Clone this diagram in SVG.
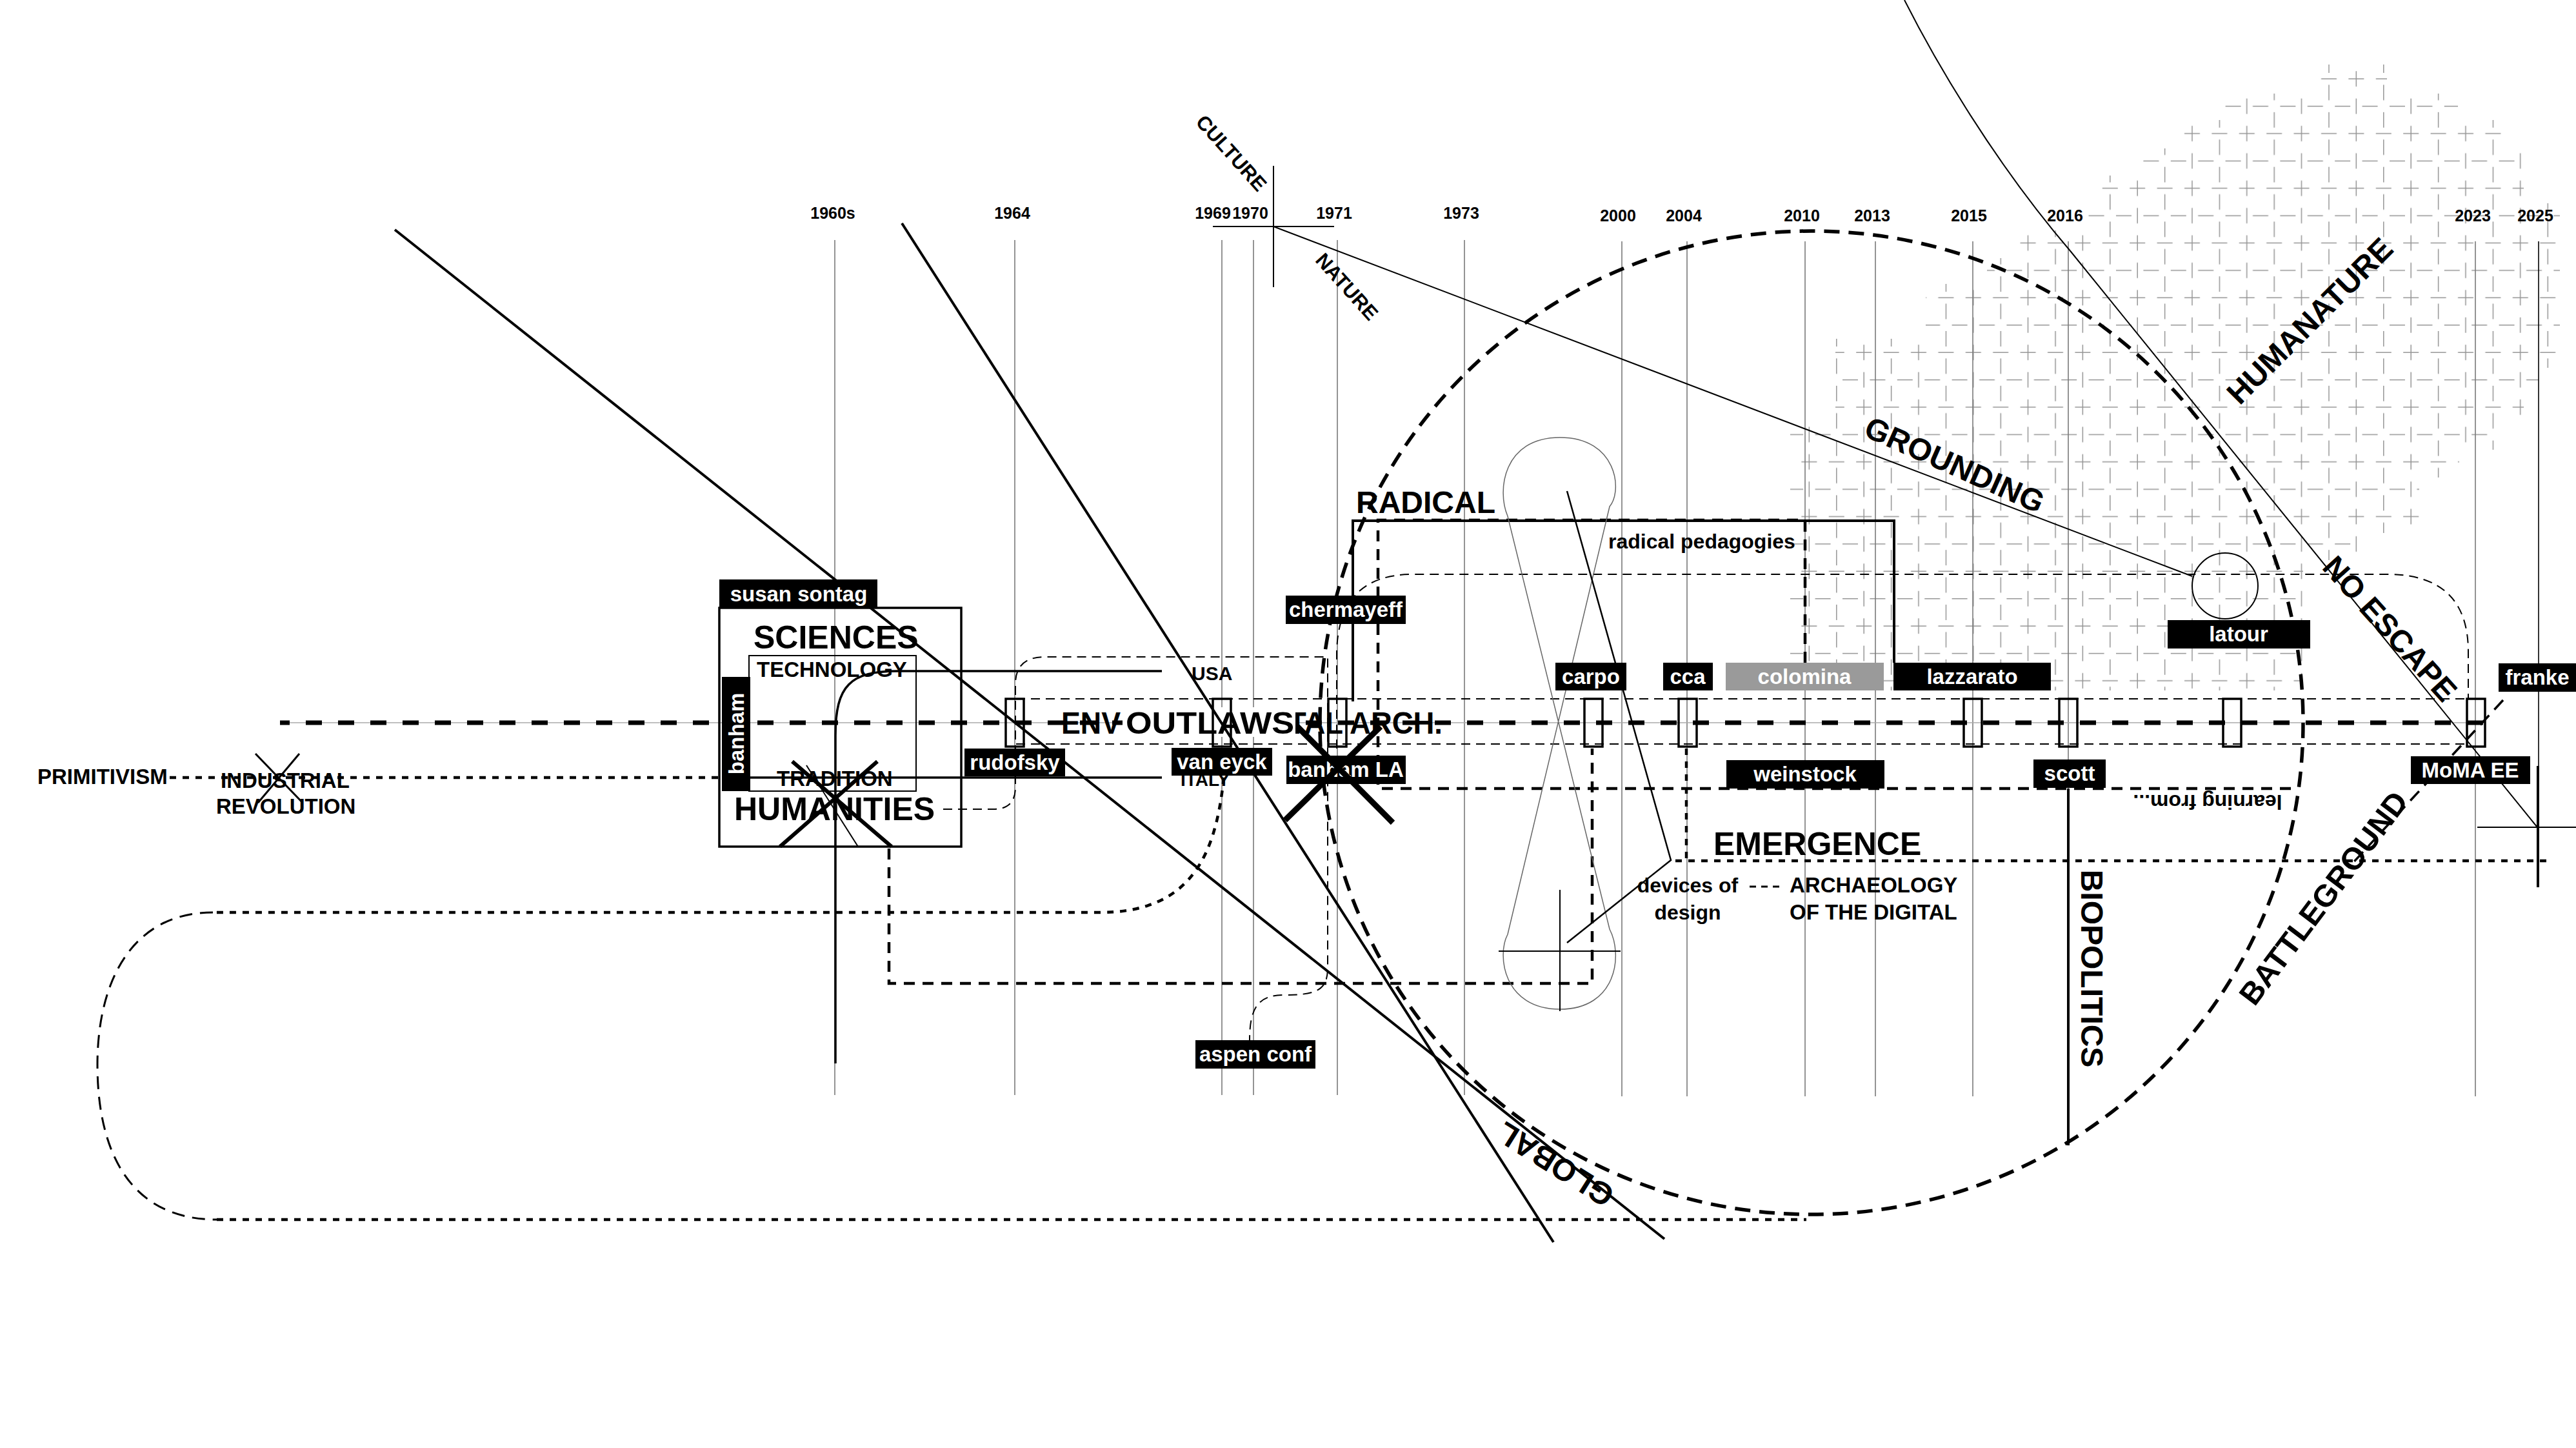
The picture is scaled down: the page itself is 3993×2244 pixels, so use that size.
<svg xmlns="http://www.w3.org/2000/svg" width="3993" height="2244" viewBox="0 0 3993 2244">
<style>
text{font-family:'Liberation Sans',Arial,Helvetica,sans-serif;font-weight:bold;fill:#000}
.yr{font-size:25px;text-anchor:middle}
.lb{fill:#fff;font-size:33px;text-anchor:middle}
.big{font-size:48px;text-anchor:middle}
.yl{stroke:#7a7a7a;stroke-width:1.6;fill:none}
.tick{fill:none;stroke:#000;stroke-width:3.5}
.thd{fill:none;stroke:#000;stroke-width:2;stroke-dasharray:14 9}
.md{fill:none;stroke:#000;stroke-width:4.5;stroke-dasharray:17 12}
.dot{fill:none;stroke:#000;stroke-width:4.5;stroke-dasharray:10 10}
.sol{fill:none;stroke:#000}
</style>
<defs>
<pattern id="gp" patternUnits="userSpaceOnUse" x="3292" y="101" width="84.8" height="84.8">
<path d="M9.2,21.2H33.2M51.6,21.2H75.6M30.4,63.6H54.4M0,63.6H12M72.8,63.6H84.8M21.2,9.2V33.2M21.2,51.6V75.6M63.6,30.4V54.4M63.6,0V12M63.6,72.8V84.8" stroke="#959595" stroke-width="1.5" fill="none"/>
</pattern>
</defs>
<rect width="3993" height="2244" fill="#fff"/>

<g id="grid-field">
<polygon fill="url(#gp)" points="3590,100 3700,100 3700,145 3810,145 3810,186 3890,186 3890,230 3912,230 3912,315 3968,315 3968,570 3935,570 3935,612 3912,612 3912,655 3866,655 3866,697 3812,697 3812,740 3750,740 3750,826 3655,826 3655,868 3570,868 3570,1070 2775,1070 2775,650 2845,650 2845,525 2985,525 2985,440 3080,440 3080,400 3125,400 3125,357 3230,357 3230,315 3255,315 3255,272 3315,272 3315,230 3380,230 3380,186 3445,186 3445,145 3590,145"/>
</g>

<g id="timeline">
<g class="yl">
<path d="M1294,372V1697M1573,372V1697M1894,372V1697M1943,372V1697M2073,372V1697M2270,372V1697M2514,374V1699M2615,374V1699M2798,374V1699M2907,374V1699M3058,374V1699M3206,374V1699M3837,374V1699"/>
<path d="M3935,374V1187" stroke="#000" stroke-width="1.6"/>
</g>
<text class="yr" x="1291" y="339">1960s</text>
<text class="yr" x="1569" y="339">1964</text>
<text class="yr" x="1880" y="339">1969</text>
<text class="yr" x="1938" y="339">1970</text>
<text class="yr" x="2068" y="339">1971</text>
<text class="yr" x="2265" y="339">1973</text>
<text class="yr" x="2508" y="343">2000</text>
<text class="yr" x="2610" y="343">2004</text>
<text class="yr" x="2793" y="343">2010</text>
<text class="yr" x="2902" y="343">2013</text>
<text class="yr" x="3052" y="343">2015</text>
<text class="yr" x="3201" y="343">2016</text>
<text class="yr" x="3833" y="343">2023</text>
<text class="yr" x="3930" y="343">2025</text>
</g>

<g id="connectors">
<path d="M434,1120H3840" stroke="#aaa" stroke-width="1.5"/>
<path d="M434,1120H3858" stroke="#000" stroke-width="7" stroke-dasharray="25 25" stroke-dashoffset="10"/>
<path class="thd" d="M1575,1083H3826M1575,1153H3826"/>
<path class="thd" d="M1462,1254H1540Q1574,1254 1574,1220V1060Q1574,1018 1620,1018H2058V1500C2058,1535 2040,1542 1990,1542C1950,1542 1937,1562 1937,1612"/>
<path class="thd" d="M2072,1160V1010Q2075,890 2190,890H3700Q3826,890 3826,1010V1083"/>
<circle cx="2808" cy="1120" r="762" fill="none" stroke="#000" stroke-width="5.5" stroke-dasharray="24 14"/>
<path class="dot" d="M1897,1205C1885,1320 1850,1414 1705,1414L330,1414"/>
<path d="M330,1414C205,1414 151,1520 151,1650C151,1790 205,1890 336,1890" fill="none" stroke="#000" stroke-width="3" stroke-dasharray="20 12"/>
<path class="dot" d="M336,1890H2800"/>
<path class="md" d="M1378,1315V1524H2468V1160"/>
<path class="md" d="M2798,1027V806H2136V1222H3562"/>
<path class="dot" d="M2614,1160V1334"/>
<path class="dot" stroke-width="4" d="M2597,1334H3954"/>
<path class="dot" stroke-width="3.5" d="M263,1205H1163"/>
<path d="M2712,1374H2766" stroke="#000" stroke-width="3" stroke-dasharray="10 8"/>
<path d="M3880,1085L3640,1345" stroke="#000" stroke-width="3.5" stroke-dasharray="20 12"/>
<path class="sol" stroke-width="4" d="M2097,1087V807H2936V1027"/>
<path class="sol" stroke-width="3.5" d="M1295,1648V1140C1295,1062 1318,1040 1392,1040H1801"/>
<path class="sol" stroke-width="3.5" d="M1163,1205H1801"/>
<path class="sol" stroke-width="2" d="M1974,257V445M1880,351H2068"/>
<path class="sol" stroke-width="2" d="M1974,351L3398,893"/>
<circle cx="3449" cy="908" r="51" fill="none" stroke="#000" stroke-width="2"/>
<path class="sol" stroke-width="2" d="M2952,0C3000,95 3090,250 3210,390L3933,1282"/>
<path class="sol" stroke-width="4" d="M3934,1187V1375"/>
<path class="sol" stroke-width="2" d="M3840,1282H3993"/>
<path class="sol" stroke-width="4" d="M3206,1222V1775"/>
<path d="M2495,785L2337,1448C2320,1480 2330,1564 2418,1564C2506,1564 2516,1480 2495,1440L2337,800C2320,760 2330,678 2418,678C2506,678 2516,760 2495,785Z" fill="none" stroke="#666" stroke-width="1.5"/>
<path class="sol" stroke="#333" stroke-width="2" d="M2323,1474H2512M2418,1379V1567"/>
<path class="sol" stroke-width="2.5" d="M2429,761L2590,1333L2429,1461"/>
<path class="sol" stroke-width="3" d="M396,1168L469,1244M464,1168L400,1244"/>
</g>

<g id="n-env-outlaws">
<text x="1645" y="1137" font-size="48" textLength="92" lengthAdjust="spacingAndGlyphs">ENV</text>
<text x="1997" y="1137" font-size="48" textLength="239" lengthAdjust="spacingAndGlyphs">TAL ARCH.</text>
<rect x="1740" y="1096" width="268" height="46" fill="#fff"/>
<text x="1745" y="1137" font-size="48" textLength="261" lengthAdjust="spacingAndGlyphs">OUTLAWS</text>
</g>

<g id="ticks">
<rect class="tick" x="1559" y="1083" width="28" height="74"/>
<rect class="tick" x="1880" y="1083" width="28" height="74"/>
<rect class="tick" x="2059" y="1083" width="28" height="74"/>
<rect class="tick" x="2456" y="1083" width="28" height="74"/>
<rect class="tick" x="2602" y="1083" width="28" height="74"/>
<rect class="tick" x="3044" y="1083" width="28" height="74"/>
<rect class="tick" x="3192" y="1083" width="28" height="74"/>
<rect class="tick" x="3446" y="1083" width="28" height="74"/>
<rect class="tick" x="3824" y="1083" width="28" height="74"/>
</g>

<g id="diagonals">
<path class="sol" stroke-width="4" d="M612,356L2580,1920"/>
<path class="sol" stroke-width="4" d="M1398,346L2408,1925"/>
</g>

<g id="n-sciences-humanities">
<rect x="1115" y="942" width="375" height="370" fill="none" stroke="#000" stroke-width="3.5"/>
<rect x="1161" y="1016" width="259" height="210" fill="none" stroke="#000" stroke-width="2"/>
<text x="1168" y="1005" font-size="50">SCIENCES</text>
<text x="1173" y="1049" font-size="33">TECHNOLOGY</text>
<text x="1204" y="1218" font-size="33">TRADITION</text>
<text x="1138" y="1271" font-size="50">HUMANITIES</text>
<path class="sol" stroke-width="6" d="M1209,1312L1360,1180M1228,1180L1382,1312"/>
<path class="sol" stroke-width="2" d="M1250,1186L1330,1312"/>
</g>

<g id="n-primitivism"><text x="58" y="1215" font-size="33">PRIMITIVISM</text></g>
<g id="n-industrial"><text x="342" y="1221" font-size="33">INDUSTRIAL</text><text x="335" y="1261" font-size="33">REVOLUTION</text></g>

<g id="n-susan-sontag"><rect x="1115" y="898" width="245" height="44"/><text class="lb" x="1238" y="932">susan sontag</text></g>
<g id="n-banham"><rect x="1119" y="1049" width="44" height="177"/><text class="lb" x="1141" y="1149" transform="rotate(-90 1141 1137)">banham</text></g>
<g id="n-usa"><text x="1847" y="1054" font-size="30">USA</text></g>
<g id="n-italy"><text x="1830" y="1218" font-size="28">ITALY</text></g>
<g id="n-rudofsky"><rect x="1495" y="1160" width="156" height="43"/><text class="lb" x="1573" y="1193">rudofsky</text></g>
<g id="n-van-eyck"><rect x="1816" y="1159" width="156" height="43"/><text class="lb" x="1894" y="1192">van eyck</text></g>
<g id="n-chermayeff"><rect x="1993" y="923" width="186" height="44"/><text class="lb" x="2086" y="956">chermayeff</text></g>
<g id="n-banham-la"><rect x="1994" y="1171" width="185" height="44"/><text class="lb" x="2086" y="1204">banham LA</text>
<path class="sol" stroke-width="9" d="M2011,1126L2159,1275M2140,1126L1992,1271"/></g>
<g id="n-aspen"><rect x="1853" y="1612" width="186" height="44"/><text class="lb" x="1946" y="1645">aspen conf</text></g>
<g id="n-carpo"><rect x="2411" y="1027" width="110" height="43"/><text class="lb" x="2466" y="1060">carpo</text></g>
<g id="n-cca"><rect x="2578" y="1027" width="77" height="43"/><text class="lb" x="2616" y="1060">cca</text></g>
<g id="n-colomina"><rect x="2675" y="1027" width="245" height="43" fill="#9a9a9a"/><text class="lb" x="2797" y="1060">colomina</text></g>
<g id="n-lazzarato"><rect x="2935" y="1027" width="244" height="43"/><text class="lb" x="3057" y="1060">lazzarato</text></g>
<g id="n-weinstock"><rect x="2676" y="1178" width="245" height="44"/><text class="lb" x="2798" y="1211">weinstock</text></g>
<g id="n-scott"><rect x="3152" y="1177" width="112" height="44"/><text class="lb" x="3208" y="1210">scott</text></g>
<g id="n-latour"><rect x="3360" y="961" width="221" height="44"/><text class="lb" x="3470" y="994">latour</text></g>
<g id="n-moma"><rect x="3737" y="1172" width="185" height="43"/><text class="lb" x="3829" y="1205">MoMA EE</text></g>
<g id="n-franke"><rect x="3873" y="1028" width="120" height="44"/><text class="lb" x="3933" y="1061">franke</text></g>

<g id="n-radical"><text x="2102" y="795" font-size="48">RADICAL</text><text x="2493" y="850" font-size="32">radical pedagogies</text></g>
<g id="n-emergence"><text x="2656" y="1325" font-size="50">EMERGENCE</text></g>
<g id="n-devices"><text x="2616" y="1383" font-size="32" text-anchor="middle">devices of</text><text x="2616" y="1425" font-size="32" text-anchor="middle">design</text></g>
<g id="n-archaeology"><text x="2774" y="1383" font-size="33">ARCHAEOLOGY</text><text x="2774" y="1425" font-size="33">OF THE DIGITAL</text></g>
<g id="n-learning"><text x="3422" y="1254" font-size="32" text-anchor="middle" transform="rotate(180 3422 1243)">learning from...</text></g>
<g id="n-culture"><text x="1909" y="248" font-size="31" text-anchor="middle" transform="rotate(48 1909 237)">CULTURE</text></g>
<g id="n-nature"><text x="2088" y="455" font-size="31" text-anchor="middle" transform="rotate(48 2088 444)">NATURE</text></g>
<g id="n-grounding"><text class="big" x="3030" y="737" transform="rotate(24 3030 720)">GROUNDING</text></g>
<g id="n-humanature"><text class="big" x="3580" y="514" font-size="49" transform="rotate(-45 3580 497)">HUMANATURE</text></g>
<g id="n-noescape"><text class="big" x="3705" y="991" font-size="49" transform="rotate(48 3705 974)">NO ESCAPE</text></g>
<g id="n-battleground"><text class="big" x="3602" y="1408" font-size="45" transform="rotate(-53 3602 1392)">BATTLEGROUND</text></g>
<g id="n-biopolitics"><text class="big" x="3243" y="1518" transform="rotate(90 3243 1501)">BIOPOLITICS</text></g>
<g id="n-global"><text class="big" x="2411" y="1820" font-size="45" transform="rotate(212 2411 1804)">GLOBAL</text></g>
</svg>
